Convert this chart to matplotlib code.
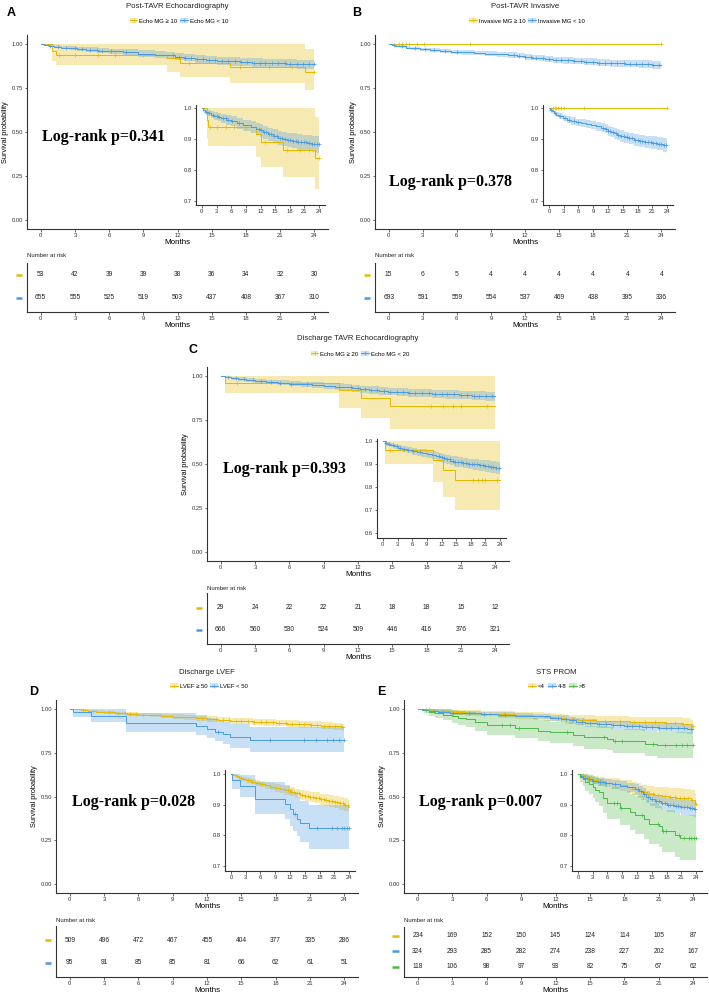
import matplotlib
matplotlib.use('Agg')
import matplotlib.pyplot as plt
from matplotlib.patches import Patch
from matplotlib.lines import Line2D
import matplotlib.transforms as mtransforms
import numpy as np

plt.rcParams['font.family'] = ['Liberation Sans', 'DejaVu Sans']

W, H = 709, 996
YEL = '#E7B800'
BLU = '#4A9BE3'
GRN = '#4DB848'
months = [0, 3, 6, 9, 12, 15, 18, 21, 24]

# ---------------- data: panel A (Post-TAVR Echocardiography) ----------------
a_yel_t = [0, 1.0, 1.3, 11.1, 12.2, 16.6, 23.2]
a_yel_s = [1.0, 0.962, 0.938, 0.917, 0.891, 0.866, 0.838]
a_yel_lo = [1.0, 0.905, 0.878, 0.843, 0.810, 0.776, 0.738]
a_yel_hi = [1.0, 1.0, 1.0, 1.0, 1.0, 1.0, 0.97]
a_yel_cens = [1.6, 3.0, 5.0, 6.5, 9.0, 13.0, 17.5, 20.0, 22.0, 24.0]
a_blu_t = [0, 0.3, 0.7, 1.2, 1.8, 2.5, 3.2, 4.0, 5.0, 6.0, 7.2, 8.5, 10.0, 11.0,
           11.8, 12.6, 13.5, 14.5, 15.5, 16.5, 17.5, 18.5, 19.5, 20.5, 21.5, 22.5, 23.5]
a_blu_s = [1.0, 0.994, 0.989, 0.984, 0.979, 0.975, 0.971, 0.967, 0.962, 0.957, 0.951, 0.945,
           0.939, 0.934, 0.928, 0.922, 0.915, 0.909, 0.904, 0.900, 0.897, 0.894, 0.891, 0.889,
           0.887, 0.885, 0.883]
a_blu_hw = [0, 0.006, 0.008, 0.010, 0.011, 0.012, 0.013, 0.014, 0.015, 0.016, 0.017, 0.018,
            0.019, 0.019, 0.020, 0.021, 0.022, 0.022, 0.023, 0.023, 0.024, 0.024, 0.025, 0.025,
            0.026, 0.026, 0.027]
a_blu_cens = [0.8, 1.5, 2.2, 3.0, 3.6, 4.3, 4.9, 5.4, 6.2, 7.5, 11.6, 12.1, 12.7, 13.2, 13.7,
              14.2, 14.8, 15.3, 15.9, 16.4, 17.0, 17.6, 18.1, 18.7, 19.2, 19.7, 20.3, 20.8,
              21.4, 21.9, 22.5, 23.0, 23.5, 24.0]
a_risk_yel = [53, 42, 39, 39, 38, 36, 34, 32, 30]
a_risk_blu = [655, 555, 525, 519, 503, 437, 408, 367, 310]

# ---------------- panel B (Post-TAVR Invasive) ----------------
b_yel_t = [0]
b_yel_s = [1.0]
b_yel_lo = [1.0]
b_yel_hi = [1.0]
b_yel_cens = [0.9, 1.2, 1.5, 1.75, 2.5, 3.1, 7.2, 24.0]
b_blu_t = [0, 0.3, 0.6, 1.0, 1.5, 2.0, 2.8, 3.6, 4.5, 5.5, 6.5, 7.5, 8.5, 9.5, 10.5, 11.3,
           12.0, 12.6, 13.2, 13.8, 14.5, 15.3, 16.2, 17.2, 18.3, 19.5, 20.8, 22.0, 23.2]
b_blu_s = [1.0, 0.995, 0.990, 0.985, 0.979, 0.974, 0.968, 0.963, 0.958, 0.954, 0.951, 0.948,
           0.945, 0.941, 0.937, 0.933, 0.927, 0.922, 0.918, 0.914, 0.910, 0.906, 0.902, 0.898,
           0.894, 0.891, 0.888, 0.885, 0.880]
b_blu_hw = [0, 0.005, 0.006, 0.007, 0.008, 0.009, 0.010, 0.011, 0.012, 0.012, 0.013, 0.013,
            0.014, 0.014, 0.015, 0.015, 0.016, 0.016, 0.017, 0.017, 0.018, 0.018, 0.019, 0.019,
            0.020, 0.020, 0.021, 0.021, 0.022]
b_blu_cens = [0.5, 1.2, 2.3, 3.2, 4.0, 5.0, 6.0, 11.0, 11.5, 12.0, 12.5, 13.0, 13.6, 14.1, 14.7,
              15.2, 15.8, 16.3, 16.9, 17.4, 18.0, 18.5, 19.0, 19.6, 20.1, 20.7, 21.2, 21.8,
              22.3, 22.8, 23.3, 23.8]
b_risk_yel = [15, 6, 5, 4, 4, 4, 4, 4, 4]
b_risk_blu = [693, 591, 559, 554, 537, 469, 438, 395, 336]

# ---------------- panel C (Discharge TAVR Echocardiography) ----------------
c_yel_t = [0, 0.4, 10.3, 12.3, 14.8]
c_yel_s = [1.0, 0.962, 0.917, 0.874, 0.831]
c_yel_lo = [1.0, 0.90, 0.82, 0.758, 0.70]
c_yel_hi = [1.0, 1.0, 1.0, 1.0, 1.0]
c_yel_cens = [1.4, 18.4, 19.4, 20.3, 21.0, 23.3]
c_blu_t = [0, 0.4, 0.9, 1.5, 2.2, 3.0, 4.0, 5.0, 6.0, 7.0, 8.0, 9.0, 10.0, 10.8, 11.5, 12.2,
           13.0, 13.8, 14.6, 15.4, 16.4, 17.4, 18.5, 19.6, 20.8, 22.0, 23.2]
c_blu_s = [1.0, 0.993, 0.987, 0.982, 0.977, 0.971, 0.966, 0.961, 0.956, 0.951, 0.947, 0.943,
           0.939, 0.935, 0.930, 0.925, 0.920, 0.915, 0.911, 0.907, 0.904, 0.901, 0.898, 0.895,
           0.891, 0.887, 0.883]
c_blu_hw = [0, 0.006, 0.008, 0.010, 0.011, 0.012, 0.013, 0.014, 0.015, 0.016, 0.017, 0.017,
            0.018, 0.019, 0.019, 0.020, 0.021, 0.021, 0.022, 0.022, 0.023, 0.023, 0.024, 0.024,
            0.025, 0.025, 0.026]
c_blu_cens = [0.6, 1.3, 2.0, 2.8, 3.5, 4.4, 5.2, 6.1, 7.5, 11.4, 12.0, 12.6, 13.1, 13.7, 14.3,
              14.8, 15.4, 15.9, 16.5, 17.0, 17.6, 18.2, 18.7, 19.3, 19.8, 20.4, 21.0, 21.5,
              22.1, 22.6, 23.2, 23.7]
c_risk_yel = [29, 24, 22, 22, 21, 18, 18, 15, 12]
c_risk_blu = [666, 560, 530, 524, 509, 446, 416, 376, 321]

# ---------------- panel D (Discharge LVEF) ----------------
d_yel_t = [0, 0.5, 1.0, 1.6, 2.3, 3.0, 4.0, 5.0, 6.0, 7.0, 8.0, 9.0, 10.0, 11.0, 12.0, 13.0,
           14.0, 15.0, 16.0, 17.0, 18.0, 19.0, 20.0, 21.0, 22.0, 23.0, 23.8]
d_yel_s = [1.0, 0.996, 0.992, 0.988, 0.984, 0.980, 0.975, 0.971, 0.967, 0.963, 0.959, 0.955,
           0.951, 0.947, 0.942, 0.937, 0.932, 0.928, 0.925, 0.922, 0.918, 0.915, 0.912, 0.908,
           0.904, 0.900, 0.894]
d_yel_hw = [0, 0.004, 0.005, 0.006, 0.007, 0.008, 0.009, 0.010, 0.011, 0.011, 0.012, 0.013,
            0.013, 0.014, 0.015, 0.015, 0.016, 0.017, 0.017, 0.018, 0.018, 0.019, 0.019, 0.020,
            0.021, 0.021, 0.022]
d_yel_cens = [1.2, 2.0, 3.4, 4.2, 4.8, 5.3, 5.8, 6.4, 11.6, 12.2, 12.8, 13.4, 13.9, 14.5, 15.0,
              15.6, 16.1, 16.7, 17.2, 17.8, 18.3, 18.9, 19.4, 20.0, 20.5, 21.1, 21.6, 22.2,
              22.7, 23.2, 23.7]
d_blu_t = [0, 0.3, 1.9, 4.9, 11.0, 12.0, 12.7, 13.4, 14.0, 15.8]
d_blu_s = [1.0, 0.98, 0.96, 0.918, 0.903, 0.885, 0.87, 0.855, 0.84, 0.823]
d_blu_lo = [1.0, 0.952, 0.925, 0.87, 0.852, 0.832, 0.815, 0.797, 0.778, 0.755]
d_blu_hi = [1.0, 1.0, 0.997, 0.975, 0.965, 0.95, 0.937, 0.925, 0.912, 0.898]
d_blu_cens = [13.0, 17.5, 20.5, 21.5, 22.5, 23.0, 23.5, 24.0]
d_risk_yel = [509, 496, 472, 467, 455, 404, 377, 335, 286]
d_risk_blu = [95, 91, 85, 85, 81, 66, 62, 61, 51]

# ---------------- panel E (STS PROM) ----------------
e_yel_t = [0, 0.5, 1.2, 2.0, 3.0, 4.2, 5.5, 7.0, 8.5, 10.0, 11.0, 12.0, 12.8, 14.0, 15.5,
           17.0, 18.5, 20.0, 21.5, 23.0, 23.8]
e_yel_s = [1.0, 0.996, 0.990, 0.985, 0.980, 0.976, 0.972, 0.968, 0.963, 0.958, 0.952, 0.946,
           0.940, 0.936, 0.932, 0.928, 0.925, 0.923, 0.921, 0.915, 0.902]
e_yel_hw = [0, 0.006, 0.009, 0.011, 0.013, 0.015, 0.016, 0.018, 0.019, 0.021, 0.022, 0.024,
            0.025, 0.026, 0.027, 0.028, 0.029, 0.030, 0.031, 0.033, 0.036]
e_yel_cens = [1.0, 2.5, 3.5, 5.0, 6.3, 7.5, 12.5, 13.4, 14.4, 15.3, 16.3, 17.6, 18.8, 19.8,
              20.7, 21.6, 22.4, 23.1, 24.0]
e_blu_t = [0, 0.4, 1.0, 1.8, 2.8, 4.0, 5.5, 7.0, 8.5, 10.0, 11.5, 12.5, 13.2, 13.8, 14.6,
           15.6, 16.8, 18.0, 19.5, 21.0, 22.5, 23.5]
e_blu_s = [1.0, 0.994, 0.988, 0.983, 0.978, 0.974, 0.970, 0.966, 0.961, 0.956, 0.950, 0.944,
           0.935, 0.926, 0.918, 0.911, 0.905, 0.900, 0.896, 0.892, 0.889, 0.886]
e_blu_hw = [0, 0.006, 0.008, 0.010, 0.011, 0.012, 0.013, 0.014, 0.015, 0.016, 0.017, 0.018,
            0.019, 0.020, 0.021, 0.022, 0.023, 0.023, 0.024, 0.025, 0.026, 0.027]
e_blu_cens = [0.7, 1.4, 2.2, 3.1, 4.5, 5.8, 7.6, 12.2, 12.9, 13.5, 14.3, 15.0, 15.8, 16.4,
              17.0, 17.6, 18.2, 18.7, 19.3, 19.9, 20.4, 21.0, 21.6, 22.1, 22.7, 23.2, 23.8]
e_grn_t = [0, 0.5, 1.0, 1.5, 2.2, 3.0, 3.5, 4.2, 5.0, 6.0, 8.5, 10.5, 11.5, 13.5, 14.5, 16.5,
           17.0, 19.8, 20.8]
e_grn_s = [1.0, 0.991, 0.983, 0.974, 0.966, 0.957, 0.948, 0.940, 0.922, 0.905, 0.889, 0.875,
           0.866, 0.852, 0.838, 0.830, 0.815, 0.802, 0.792]
e_grn_hw = [0, 0.017, 0.023, 0.028, 0.032, 0.036, 0.040, 0.043, 0.048, 0.052, 0.056, 0.059,
            0.061, 0.063, 0.066, 0.067, 0.069, 0.071, 0.073]
e_grn_cens = [7.3, 8.0, 8.8, 13.0, 16.2, 17.2, 17.8, 20.5, 21.5, 22.5, 23.0, 23.5, 24.0]
e_risk_yel = [234, 169, 152, 150, 145, 124, 114, 105, 87]
e_risk_blu = [324, 293, 285, 282, 274, 238, 227, 202, 167]
e_risk_grn = [118, 106, 98, 97, 93, 82, 75, 67, 62]


def box(l, t, r, b):
    return [l / W, 1 - b / H, (r - l) / W, (b - t) / H]


def curve(t, s, lo=None, hi=None, hw=None, cens=(), color=YEL):
    t = list(t); s = list(s)
    if hw is not None:
        lo = [max(0, a - h) for a, h in zip(s, hw)]
        hi = [min(1, a + h) for a, h in zip(s, hw)]
    return dict(t=t, s=s, lo=list(lo), hi=list(hi), cens=list(cens), color=color)


def draw_curves(ax, curves, ms=2.6):
    for c in curves:
        x = c['t'] + [24]
        ax.fill_between(x, c['lo'] + [c['lo'][-1]], c['hi'] + [c['hi'][-1]],
                        step='post', color=c['color'], alpha=0.3, lw=0)
    for c in curves:
        x = c['t'] + [24]
        y = c['s'] + [c['s'][-1]]
        ax.step(x, y, where='post', color=c['color'], lw=0.7)
        idx = np.searchsorted(c['t'], c['cens'], side='right') - 1
        cy = [c['s'][i] for i in idx]
        ax.plot(c['cens'], cy, ls='none', marker='+', ms=ms, mew=0.5, color=c['color'])


def style(ax, fs=4.2):
    for sp in ['top', 'right']:
        ax.spines[sp].set_visible(False)
    for sp in ['left', 'bottom']:
        ax.spines[sp].set_color('#333333')
        ax.spines[sp].set_linewidth(0.8)
    ax.tick_params(length=1.8, width=0.5, labelsize=fs, pad=1, colors='#333333')
    ax.set_xlim(-1.2, 25.2)
    ax.set_xticks(months)


def panel(fig, curves, risks, main, inset, table, tab_ylim, inset_ylim, inset_ticks,
          title, title_xy, labels, leg_xy, letter, letter_xy, pval, p_xy, nrisk_xy):
    ax = fig.add_axes(box(*main))
    draw_curves(ax, curves)
    style(ax)
    ax.set_ylim(-0.05, 1.05)
    ax.set_yticks([0, 0.25, 0.5, 0.75, 1.0])
    ax.set_yticklabels(['0.00', '0.25', '0.50', '0.75', '1.00'])
    ax.set_xlabel('Months', fontsize=5.8, labelpad=0.5)
    ax.set_ylabel('Survival probability', fontsize=5.3, labelpad=2)

    ins = fig.add_axes(box(*inset))
    draw_curves(ins, curves, ms=2.2)
    style(ins)
    ins.set_ylim(*inset_ylim)
    ins.set_yticks(inset_ticks)
    ins.set_yticklabels(['%.1f' % v for v in inset_ticks])

    tab = fig.add_axes(box(*table))
    style(tab)
    tab.set_ylim(*tab_ylim)
    tab.set_yticks([])
    tab.set_xlabel('Months', fontsize=5.8, labelpad=0.5)
    tr = mtransforms.blended_transform_factory(tab.transAxes, tab.transData)
    n = len(risks)
    for k, (row, c) in enumerate(zip(risks, curves)):
        yy = n - 1 - k
        for m, v in zip(months, row):
            tab.text(m, yy, str(v), ha='center', va='center', fontsize=4.8, color='#222222')
        tab.plot([-0.038, -0.015], [yy, yy], transform=tr, clip_on=False,
                 color=c['color'], lw=1.8, solid_capstyle='butt')
    fig.text(nrisk_xy[0] / W, 1 - nrisk_xy[1] / H, 'Number at risk', fontsize=4.3,
             ha='left', va='center', color='#222222')

    fig.text(title_xy[0] / W, 1 - title_xy[1] / H, title, ha='center', va='center',
             fontsize=5.6, color='#222222')
    handles = [(Patch(facecolor=c['color'], alpha=0.3, lw=0),
                Line2D([], [], color=c['color'], lw=0.7, marker='+', ms=2.5, mew=0.5))
               for c in curves]
    fig.legend(handles, labels, loc='center', bbox_to_anchor=(leg_xy[0] / W, 1 - leg_xy[1] / H),
               ncol=len(labels), frameon=False, fontsize=4.3, handlelength=1.3,
               handleheight=1.0, handletextpad=0.3, columnspacing=0.5, borderpad=0)
    fig.text(letter_xy[0] / W, 1 - letter_xy[1] / H, letter, ha='center', va='center',
             fontsize=9, fontweight='bold')
    fig.text(p_xy[0] / W, 1 - p_xy[1] / H, pval, ha='left', va='center',
             family='Liberation Serif', fontweight='bold', fontsize=11.5)


fig = plt.figure(figsize=(W / 100, H / 100), dpi=100)

panel(fig,
      [curve(a_yel_t, a_yel_s, a_yel_lo, a_yel_hi, cens=a_yel_cens, color=YEL),
       curve(a_blu_t, a_blu_s, hw=a_blu_hw, cens=a_blu_cens, color=BLU)],
      [a_risk_yel, a_risk_blu],
      (27, 35, 328, 229), (196, 105, 325, 205), (27, 263, 328, 312), (-0.61, 1.52),
      (0.687, 1.01), [0.7, 0.8, 0.9, 1.0],
      'Post-TAVR Echocardiography', (177, 6), ['Echo MG \u2265 10', 'Echo MG < 10'], (179, 21),
      'A', (11, 13), 'Log-rank p=0.341', (42, 137), (27, 255))

panel(fig,
      [curve(b_yel_t, b_yel_s, b_yel_lo, b_yel_hi, cens=b_yel_cens, color=YEL),
       curve(b_blu_t, b_blu_s, hw=b_blu_hw, cens=b_blu_cens, color=BLU)],
      [b_risk_yel, b_risk_blu],
      (375, 35, 675, 229), (543, 105, 673, 205), (375, 263, 675, 312), (-0.61, 1.52),
      (0.687, 1.01), [0.7, 0.8, 0.9, 1.0],
      'Post-TAVR Invasive', (525, 6), ['Invasive MG \u2265 10', 'Invasive MG < 10'], (527, 21),
      'B', (357, 13), 'Log-rank p=0.378', (389, 182), (375, 255))

panel(fig,
      [curve(c_yel_t, c_yel_s, c_yel_lo, c_yel_hi, cens=c_yel_cens, color=YEL),
       curve(c_blu_t, c_blu_s, hw=c_blu_hw, cens=c_blu_cens, color=BLU)],
      [c_risk_yel, c_risk_blu],
      (207, 367, 509, 561), (377, 439, 506, 538), (207, 593, 509, 644), (-0.64, 1.68),
      (0.578, 1.009), [0.6, 0.7, 0.8, 0.9, 1.0],
      'Discharge TAVR Echocardiography', (358, 339), ['Echo MG \u2265 20', 'Echo MG < 20'],
      (360, 354), 'C', (193, 350), 'Log-rank p=0.393', (223, 469), (207, 588))

panel(fig,
      [curve(d_yel_t, d_yel_s, hw=d_yel_hw, cens=d_yel_cens, color=YEL),
       curve(d_blu_t, d_blu_s, d_blu_lo, d_blu_hi, cens=d_blu_cens, color=BLU)],
      [d_risk_yel, d_risk_blu],
      (56, 700, 358, 893), (225, 770, 355, 871), (56, 926, 358, 977), (-0.61, 1.61),
      (0.684, 1.013), [0.7, 0.8, 0.9, 1.0],
      'Discharge LVEF', (207, 672), ['LVEF \u2265 50', 'LVEF < 50'], (209, 686),
      'D', (34, 692), 'Log-rank p=0.028', (72, 802), (56, 920))

panel(fig,
      [curve(e_yel_t, e_yel_s, hw=e_yel_hw, cens=e_yel_cens, color=YEL),
       curve(e_blu_t, e_blu_s, hw=e_blu_hw, cens=e_blu_cens, color=BLU),
       curve(e_grn_t, e_grn_s, hw=e_grn_hw, cens=e_grn_cens, color=GRN)],
      [e_risk_yel, e_risk_blu, e_risk_grn],
      (404, 700, 707, 893), (572, 770, 702, 871), (404, 927, 707, 977), (-0.65, 2.58),
      (0.684, 1.013), [0.7, 0.8, 0.9, 1.0],
      'STS PROM', (556, 672), ['<4', '4-8', '>8'], (557, 686),
      'E', (381, 692), 'Log-rank p=0.007', (419, 802), (404, 920))

fig.savefig('out.png', dpi=100)
